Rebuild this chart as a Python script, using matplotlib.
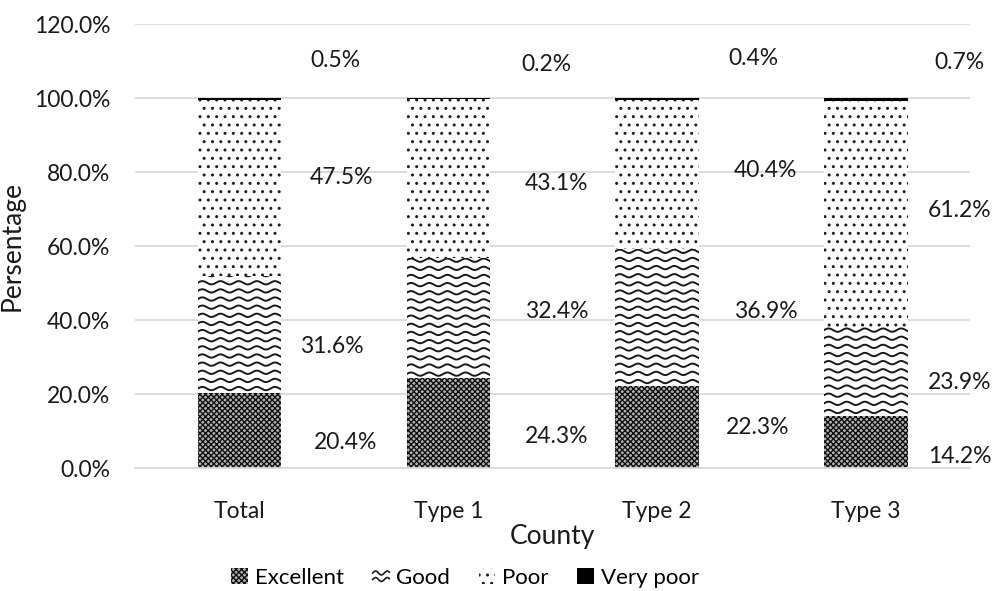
import matplotlib
matplotlib.use("Agg")
import matplotlib.pyplot as plt
import numpy as np
from matplotlib.legend_handler import HandlerPatch
from matplotlib.patches import Rectangle
from matplotlib.lines import Line2D
from matplotlib.ticker import FuncFormatter

plt.rcParams['font.family'] = ['Lato', 'DejaVu Sans']
plt.rcParams['hatch.linewidth'] = 1.0

categories = ['Total', 'Type 1', 'Type 2', 'Type 3']
excellent = [20.4, 24.3, 22.3, 14.2]
good = [31.6, 32.4, 36.9, 23.9]
poor = [47.5, 43.1, 40.4, 61.2]
very_poor = [0.5, 0.2, 0.4, 0.7]

# where each data label sits: x offset from bar centre, y in percent
label_dx = {
    'Excellent': [0.51, 0.52, 0.48, 0.45],
    'Good': [0.44, 0.52, 0.52, 0.45],
    'Poor': [0.49, 0.52, 0.52, 0.45],
    'Very poor': [0.46, 0.47, 0.46, 0.45],
}
label_y = {
    'Excellent': [6.8, 8.6, 11.1, 3.0],
    'Good': [33.0, 42.4, 42.2, 23.2],
    'Poor': [78.6, 77.0, 80.5, 69.7],
    'Very poor': [110.3, 109.2, 110.8, 109.7],
}

WAVE_PERIOD = 0.087   # x data units
WAVE_AMP = 0.45       # percent
WAVE_STEP = 2.2       # percent between wave rows


def draw_waves(ax, patch):
    x0, y0 = patch.get_x(), patch.get_y()
    w, h = patch.get_width(), patch.get_height()
    xs = np.linspace(x0 - 0.05, x0 + w + 0.05, 300)
    yy = y0 - WAVE_STEP / 2
    while yy < y0 + h + WAVE_STEP:
        ys = yy + WAVE_AMP * np.sin(2 * np.pi * (xs - x0) / WAVE_PERIOD)
        ln, = ax.plot(xs, ys, color='#1a1a1a', lw=1.4, zorder=3)
        ln.set_clip_path(patch)
        yy += WAVE_STEP


class WaveHandler(HandlerPatch):
    def create_artists(self, legend, orig_handle, xdescent, ydescent,
                       width, height, fontsize, trans):
        arts = []
        for off in [0.3, 0.7]:
            xs = np.linspace(-xdescent, -xdescent + width, 30)
            ys = -ydescent + height * off + height * 0.12 * np.sin(
                2 * np.pi * (xs + xdescent) / (width * 0.7))
            arts.append(Line2D(xs, ys, color='#1a1a1a', lw=1.2, transform=trans))
        return arts


fig = plt.figure(figsize=(9.94, 5.91), dpi=100)
ax = fig.add_axes([0.136, 0.208, 0.840, 0.751])

x = np.arange(len(categories))
width = 0.4
bottom = np.zeros(len(categories))

b_exc = ax.bar(x, excellent, width, bottom=bottom, color='#b4b4b4',
               edgecolor='#111111', hatch='xxxxxx', linewidth=0, zorder=2)
bottom += excellent
b_good = ax.bar(x, good, width, bottom=bottom, color='white',
                linewidth=0, zorder=2)
for p in b_good.patches:
    draw_waves(ax, p)
bottom += good
b_poor = ax.bar(x, poor, width, bottom=bottom, color='white',
                edgecolor='#202020', hatch='..', linewidth=0, zorder=2)
bottom += poor
b_vp = ax.bar(x, very_poor, width, bottom=bottom, color='black',
              linewidth=0, zorder=2)

series = {'Excellent': excellent, 'Good': good, 'Poor': poor,
          'Very poor': very_poor}
for name, vals in series.items():
    for i, v in enumerate(vals):
        ax.text(x[i] + label_dx[name][i], label_y[name][i], '{:.1f}%'.format(v),
                ha='center', va='center', fontsize=16.5, color='#1a1a1a')

ax.set_xlim(-0.5, 3.5)
ax.set_ylim(0, 120)
ax.set_yticks(np.arange(0, 121, 20))
ax.yaxis.set_major_formatter(FuncFormatter(lambda v, _: '{:.1f}%'.format(v)))
ax.set_xticks(x)
ax.set_xticklabels(categories)
ax.tick_params(axis='both', length=0, labelsize=16.5, colors='#1a1a1a')
ax.tick_params(axis='x', pad=24)
ax.tick_params(axis='y', pad=18)
ax.grid(axis='y', color='#d9d9d9', lw=1.3, zorder=0)
ax.set_axisbelow(True)
for s in ['top', 'right', 'left']:
    ax.spines[s].set_visible(False)
ax.spines['bottom'].set_color('#d9d9d9')
ax.spines['bottom'].set_linewidth(1.3)

ax.set_xlabel('County', fontsize=19, labelpad=1, color='#1a1a1a')
ax.set_ylabel('Persentage', fontsize=19, color='#1a1a1a')
ax.yaxis.set_label_coords(-0.132, 0.5)

handles = [
    Rectangle((0, 0), 1, 1, facecolor='#b4b4b4', edgecolor='#111111',
              hatch='xxxxxx', linewidth=0),
    Rectangle((0, 0), 1, 1, facecolor='white', linewidth=0),
    Rectangle((0, 0), 1, 1, facecolor='white', edgecolor='#202020',
              hatch='..', linewidth=0),
    Rectangle((0, 0), 1, 1, facecolor='black', linewidth=0),
]
fig.legend(handles, ['Excellent', 'Good', 'Poor', 'Very poor'],
           loc='center', bbox_to_anchor=(0.468, 0.022), ncol=4, frameon=False,
           fontsize=16, handlelength=0.75, handleheight=0.75,
           handletextpad=0.3, columnspacing=1.3,
           handler_map={handles[1]: WaveHandler()})

fig.savefig('out.png', dpi=100)
